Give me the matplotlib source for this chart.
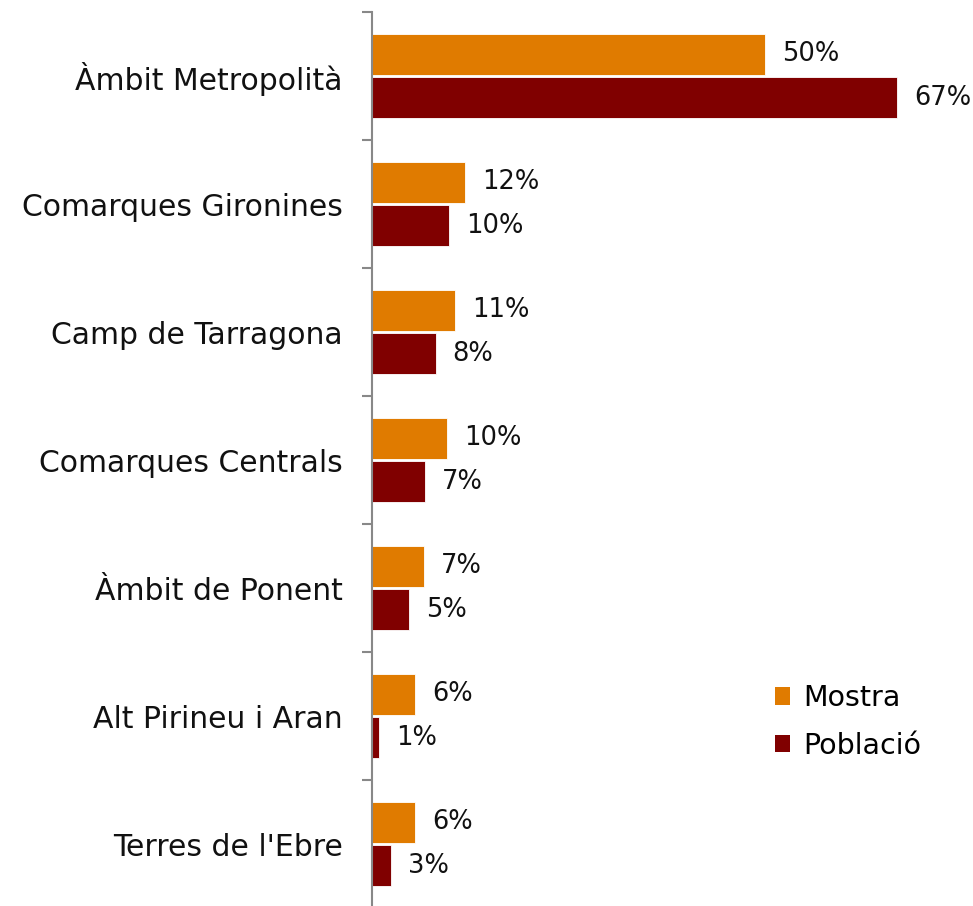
import matplotlib
matplotlib.use("Agg")
import matplotlib.pyplot as plt
import numpy as np
from matplotlib.patches import Patch

categories = ["Àmbit Metropolità", "Comarques Gironines", "Camp de Tarragona",
              "Comarques Centrals", "Àmbit de Ponent", "Alt Pirineu i Aran",
              "Terres de l'Ebre"]
mostra = [50.0, 11.8, 10.6, 9.5, 6.6, 5.5, 5.5]
poblacio = [66.8, 9.8, 8.1, 6.7, 4.7, 0.9, 2.4]
mostra_labels = ["50%", "12%", "11%", "10%", "7%", "6%", "6%"]
poblacio_labels = ["67%", "10%", "8%", "7%", "5%", "1%", "3%"]
series_names = ["Mostra", "Població"]

c_mostra = "#E07B00"
c_pob = "#800000"

W, H = 973, 906
fig = plt.figure(figsize=(W / 100, H / 100), dpi=100)
ax = fig.add_axes([372 / W, (H - 908) / H, (W - 372) / W, 896 / H])

y = np.arange(len(categories))
bh = 0.32
off = 0.168
ax.barh(y - off, mostra, height=bh, color=c_mostra, edgecolor="white", linewidth=0.6)
ax.barh(y + off, poblacio, height=bh, color=c_pob, edgecolor="white", linewidth=0.6)

fs_num = 18.5
fs_cat = 21.5
for yi, v, lab in zip(y, mostra, mostra_labels):
    ax.annotate(lab, (v, yi - off), xytext=(17, 0), textcoords="offset pixels",
                va="center", ha="left", fontsize=fs_num, color="#111111")
for yi, v, lab in zip(y, poblacio, poblacio_labels):
    ax.annotate(lab, (v, yi + off), xytext=(17, 0), textcoords="offset pixels",
                va="center", ha="left", fontsize=fs_num, color="#111111")

ax.set_xlim(0, (W - 372) / 7.86)
ax.set_ylim(len(categories) - 0.5, -0.5)

ax.set_yticks(np.arange(-0.5, len(categories), 1.0))
ax.set_yticklabels([])
ax.tick_params(axis="y", which="major", length=7.2, width=1.5, color="#888888")
ax.set_yticks(y, minor=True)
ax.set_yticklabels(categories, minor=True, fontsize=fs_cat, color="#111111")
ax.tick_params(axis="y", which="minor", length=0, pad=21)

ax.set_xticks([])
for s in ["top", "right", "bottom"]:
    ax.spines[s].set_visible(False)
ax.spines["left"].set_color("#888888")
ax.spines["left"].set_linewidth(1.5)

handles = [Patch(facecolor=c_mostra, edgecolor="none"),
           Patch(facecolor=c_pob, edgecolor="none")]
fig.legend(handles, series_names, loc="center left",
           bbox_to_anchor=(749 / W, 1 - 722 / H), frameon=False,
           fontsize=20.5, handlelength=0.55, handleheight=0.55, handletextpad=0.45,
           labelspacing=0.7)

fig.savefig("out.png", dpi=100)
